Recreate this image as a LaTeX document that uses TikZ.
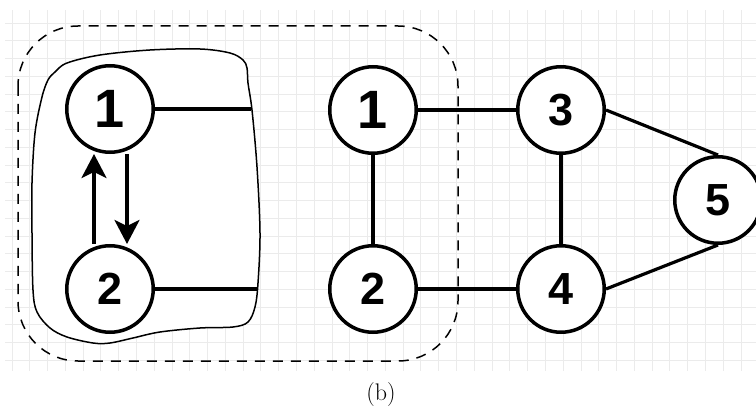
\documentclass[tikz,border=0pt]{standalone}
\usepackage{fontspec}
\newfontfamily\nodefont{Liberation Sans}
\usetikzlibrary{arrows.meta}

\begin{document}
\begin{tikzpicture}[x=1pt,y=-1pt,
  gridline/.style={draw=black!8, line width=0.9pt},
  vertex/.style={circle, draw, line width=3.5pt, fill=white,
    minimum size=86.5pt, inner sep=0pt,
    font=\nodefont\bfseries\fontsize{45}{45}\selectfont},
  bigdigit/.style={font=\nodefont\bfseries\fontsize{54}{54}\selectfont},
  link/.style={line width=3.2pt},
  flow/.style={line width=3.2pt, -{Stealth[length=24pt,width=25pt,inset=6pt]}},
  groupbox/.style={line width=1.5pt, dash pattern=on 10pt off 8pt,
    rounded corners=60pt},
  blob/.style={line width=1.5pt, fill=white}]

\useasboundingbox (0,0) rectangle (756,409);
\clip (0,0) rectangle (756,409);

% background grid
\begin{scope}
  \clip (5,10) rectangle (756,371);
  \foreach \i in {0,...,42}
    \draw[gridline] ({12+17.78*\i},10) -- ({12+17.78*\i},371);
  \foreach \j in {0,...,19}
    \draw[gridline] (5,{23+17.75*\j}) -- (756,{23+17.75*\j});
\end{scope}

% dashed group outline
\draw[groupbox] (18,26) rectangle (458,361);

% free-form region around the contracted pair
\draw[blob] plot[smooth cycle, tension=0.55] coordinates {
  (55,72) (67,63) (100,55) (150,50) (200,49) (230,53) (243,60) (247,68)
  (248,83) (252,110) (257,167) (260,233) (258,283) (255,307) (248,322)
  (233,327) (200,328) (160,332) (133,338) (110,343) (93,343) (67,337)
  (50,328) (37,312) (33,290) (32,233) (32,183) (35,133) (42,97) (48,80)};

% vertices
\node[vertex, bigdigit] (l1) at (110,109) {1};
\node[vertex] (l2) at (110,289) {2};
\node[vertex, bigdigit] (m1) at (373,110) {1};
\node[vertex] (m2) at (373,289) {2};
\node[vertex] (n3) at (561,110) {3};
\node[vertex] (n4) at (561,289) {4};
\node[vertex] (n5) at (718,200) {5};

% loose ends at the region boundary
\coordinate (e1) at (251,109);
\coordinate (e2) at (257,289);

% edges
\draw[link] (l1.east) -- (e1);
\draw[link] (l2.east) -- (e2);
\draw[flow] ([xshift=-16pt]l2.north) -- ([xshift=-16pt]l1.south);
\draw[flow] ([xshift=17pt]l1.south) -- ([xshift=17pt]l2.north);
\draw[link] (m1) -- (m2);
\draw[link] (m1) -- (n3);
\draw[link] (m2) -- (n4);
\draw[link] (n3) -- (n4);
\draw[link] (n3.east) -- (n5.north);
\draw[link] (n4.east) -- (n5.south);

% caption
\node[anchor=base, font=\fontsize{24}{28}\selectfont] (cap) at (381,400) {(b)};
\end{tikzpicture}
\end{document}
